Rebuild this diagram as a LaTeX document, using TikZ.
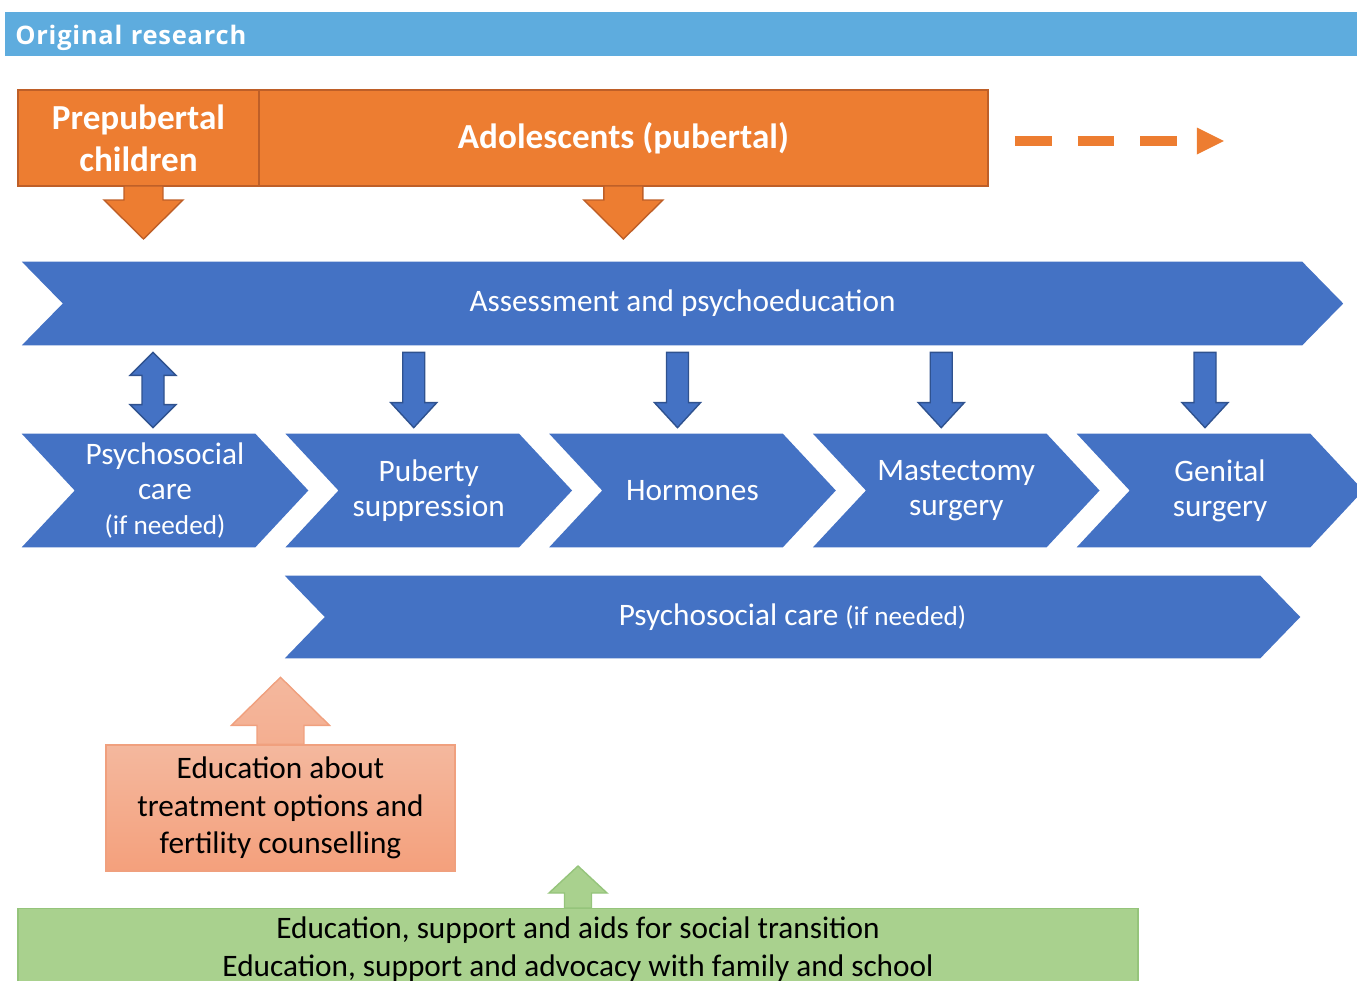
\documentclass[tikz,border=0pt]{standalone}
\usepackage{fontspec}
\setmainfont{Carlito}
\newfontfamily\hdrfont[LetterSpace=3]{Open Sans}
\usetikzlibrary{calc,positioning,backgrounds}
\definecolor{hdrblue}{HTML}{5EACDE}
\definecolor{agefill}{HTML}{ED7D31}
\definecolor{ageline}{HTML}{BE5F28}
\definecolor{stagefill}{HTML}{4472C4}
\definecolor{stageline}{HTML}{2F528F}
\definecolor{edutop}{HTML}{F4B89E}
\definecolor{edubot}{HTML}{F4A07C}
\definecolor{eduline}{HTML}{F0A07E}
\definecolor{socfill}{HTML}{A9D18E}
\definecolor{socline}{HTML}{95C47B}
\tikzset{
  agebox/.style={rectangle,fill=agefill,draw=ageline,line width=1.2pt,outer sep=0pt,
    minimum height=1.92cm,text=white,align=center,
    font=\fontsize{20}{23.8}\selectfont\bfseries},
  stage/.style={rectangle,inner sep=0pt,text=white,align=center,
    font=\fontsize{17.8}{19.8}\selectfont},
  blackbox/.style={rectangle,align=center,text=black,
    font=\fontsize{17.8}{21.5}\selectfont},
  agearrow/.style={fill=agefill,draw=ageline,line width=0.8pt},
  stagearrow/.style={fill=stagefill,draw=stageline,line width=0.8pt},
  eduarrow/.style={top color=edutop,bottom color=edutop!60!edubot,draw=eduline,line width=0.8pt},
  socarrow/.style={fill=socfill,draw=socline,line width=0.8pt}
}
% chevron behind a named node: name, depth
\newcommand{\chevron}[2]{%
\begin{pgfonlayer}{background}
\fill[stagefill] (#1.north west) -- ($(#1.north east)+(-#2,0)$) -- (#1.east)
  -- ($(#1.south east)+(-#2,0)$) -- (#1.south west) -- ($(#1.west)+(#2,0)$) -- cycle;
\end{pgfonlayer}}
% block arrow: tail, tip, half shaft, half head, head length, style
\newcommand{\blockarrow}[6]{%
\coordinate (hb) at ($(#2)!#5!(#1)$);
\filldraw[#6] ($(#1)!#3!90:(#2)$) -- ($(hb)!#3!90:(#2)$) -- ($(hb)!#4!90:(#2)$) -- (#2)
  -- ($(hb)!#4!-90:(#2)$) -- ($(hb)!#3!-90:(#2)$) -- ($(#1)!#3!-90:(#2)$) -- cycle;}
\begin{document}
\begin{tikzpicture}[x=0.02cm,y=-0.02cm]
\useasboundingbox (0,0) rectangle (1357,981);
\node[fill=hdrblue,anchor=north west,minimum height=.88cm,text width=26.64cm,
  inner xsep=.2cm,inner ysep=0pt,text depth=0pt,text=white,align=left,
  font=\hdrfont\bfseries\fontsize{14.5}{17}\selectfont] (hdr) at (5,12) {Original research};
% age groups
\node[agebox,minimum width=4.82cm] (prep) at (138.5,138) {Prepubertal\\children};
\node[agebox,minimum width=14.58cm,right=0pt of prep] (adol) {Adolescents (pubertal)};
\blockarrow{$(prep.south)+(5,0)$}{$(prep.south)+(5,53)$}{.39cm}{.79cm}{.78cm}{agearrow}
\blockarrow{adol.south}{$(adol.south)+(0,53)$}{.39cm}{.79cm}{.78cm}{agearrow}
\coordinate (ds) at ($(adol.east)+(27,3)$);
\coordinate (de) at ($(ds)+(162,0)$);
\draw[agefill,line width=5.67pt,dash pattern=on 20.98pt off 14.74pt] (ds) -- (de);
\fill[agefill] ($(de)+(20,-13.5)$) -- ($(de)+(47,0)$) -- ($(de)+(20,13.5)$) -- cycle;
% stages
\node[stage,minimum width=26.42cm,minimum height=1.66cm] (assess) at (682.5,303.5)
  {Assessment and psychoeducation};
\chevron{assess}{41}
\foreach \i/\nm/\txt in {0/psy/{Psychosocial\\care\\{\fontsize{15.5}{18}\selectfont(if needed)}},
    1/puber/{Puberty\\suppression},2/horm/{Hormones},
    3/mast/{Mastectomy\\surgery},4/genit/{Genital\\surgery}}{
  \node[stage,minimum width=5.72cm,minimum height=2.26cm] (\nm) at (165+263.75*\i,490.5) {\txt};
  \chevron{\nm}{53}
}
\foreach \nm in {puber,horm,mast,genit}{
  \coordinate (tip) at ($(\nm.north)+(-15,-6)$);
  \blockarrow{$(tip |- assess.south)+(0,7)$}{tip}{.22cm}{.46cm}{.5cm}{stagearrow}
}
\coordinate (dt) at ($(psy.north |- assess.south)+(-12,7)$);
\coordinate (db) at ($(psy.north)+(-12,-6)$);
\filldraw[stagearrow] (dt) -- ($(dt)+(23,23)$) -- ($(dt)+(11,23)$) -- ($(db)+(11,-23)$)
  -- ($(db)+(23,-23)$) -- (db) -- ($(db)+(-23,-23)$) -- ($(db)+(-11,-23)$)
  -- ($(dt)+(-11,23)$) -- ($(dt)+(-23,23)$) -- cycle;
\node[stage,minimum width=20.3cm,minimum height=1.64cm] (care) at (792.5,617)
  {Psychosocial care {\fontsize{15.5}{18}\selectfont(if needed)}};
\chevron{care}{40}
% education
\node[blackbox,minimum width=6.98cm,minimum height=2.52cm,top color=edutop,
  bottom color=edubot,draw=eduline,line width=0.8pt] (edu) at (280.5,808)
  {Education about\\treatment options and\\fertility counselling};
\blockarrow{edu.north}{$(edu.north |- care.south)+(0,19)$}{.47cm}{.98cm}{.96cm}{eduarrow}
\node[blackbox,fill=socfill,draw=socline,line width=0.8pt,anchor=north,
  minimum width=22.4cm,inner ysep=4.5pt] (soc) at (578,908)
  {Education, support and aids for social transition\\
   Education, support and advocacy with family and school};
\blockarrow{soc.north}{$(soc.north)+(0,-42)$}{.27cm}{.58cm}{.54cm}{socarrow}
\end{tikzpicture}
\end{document}
